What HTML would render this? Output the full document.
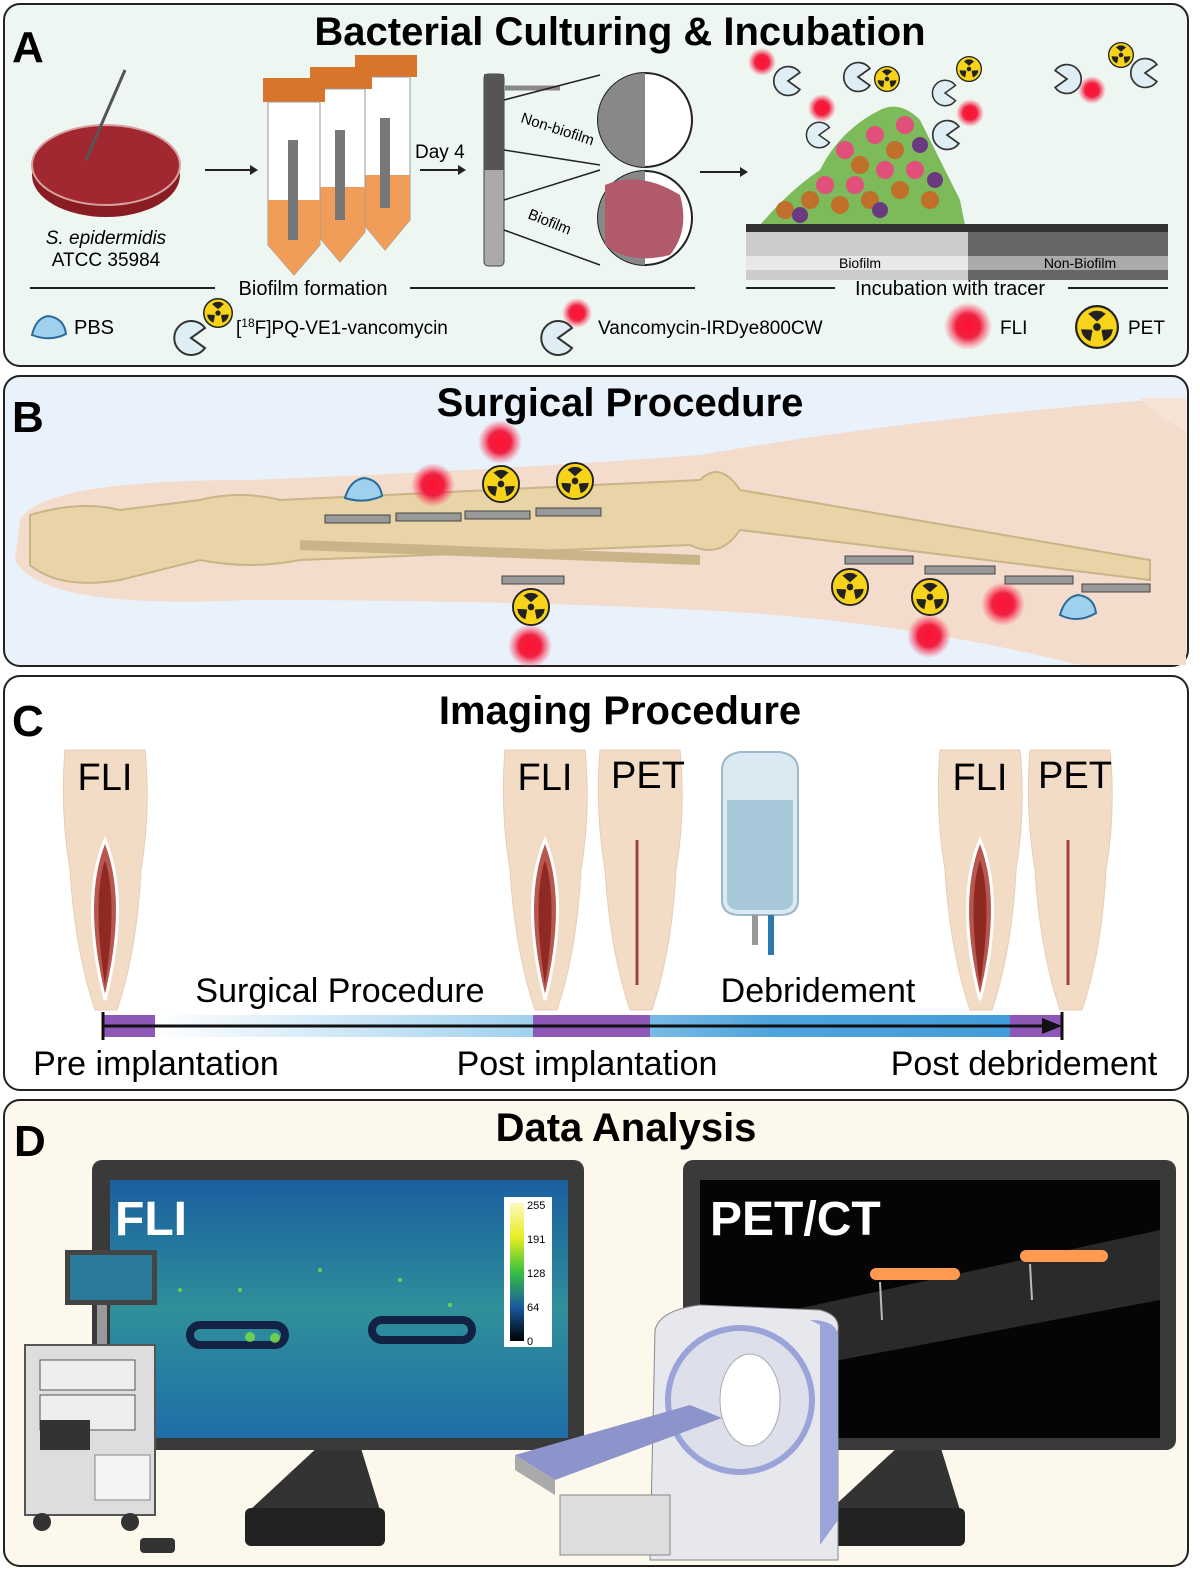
<!DOCTYPE html>
<html><head><meta charset="utf-8"><style>
body{margin:0;background:#fff}
svg{display:block}
text{font-family:"Liberation Sans",sans-serif}
</style></head><body>
<svg width="1200" height="1579" viewBox="0 0 1200 1579" xmlns="http://www.w3.org/2000/svg">
<defs>
<radialGradient id="red"><stop offset="0" stop-color="#ff1030"/><stop offset="0.5" stop-color="#f02040"/><stop offset="1" stop-color="#ff4060" stop-opacity="0"/></radialGradient>
<symbol id="pet" viewBox="-20 -20 40 40"><circle r="19" fill="#f7d31a" stroke="#222" stroke-width="2"/><circle r="3.5" fill="#222"/><path d="M0 -5 L-5 -14 A16 16 0 0 1 5 -14Z M4.5 2.5 L14.5 2 A16 16 0 0 1 9.5 11 Z M-4.5 2.5 L-9.5 11 A16 16 0 0 1 -14.5 2Z" fill="#222"/><path d="M0 -5 L-8 -12 A15 15 0 0 1 8 -12Z M4 3 L14 5 A15 15 0 0 1 6 13Z M-4 3 L-6 13 A15 15 0 0 1 -14 5Z" fill="#222"/></symbol>
<symbol id="pac" viewBox="-20 -20 40 40"><path d="M0 0 L14 -10 A17 17 0 1 0 14 10 Z" fill="#dfeef5" stroke="#333" stroke-width="2"/></symbol>
<linearGradient id="tl" x1="0" x2="1"><stop offset="0.05" stop-color="#fff"/><stop offset="0.45" stop-color="#9fd0ee"/><stop offset="0.7" stop-color="#4ea3dc"/><stop offset="1" stop-color="#3f9ad8"/></linearGradient>
<linearGradient id="fli" x1="0" y1="0" x2="0" y2="1"><stop offset="0" stop-color="#1a5fa0"/><stop offset="0.5" stop-color="#2f8f9a"/><stop offset="1" stop-color="#1f6ea8"/></linearGradient>
<linearGradient id="cb" x1="0" y1="0" x2="0" y2="1"><stop offset="0" stop-color="#fff8c0"/><stop offset="0.25" stop-color="#e6ee20"/><stop offset="0.5" stop-color="#38c040"/><stop offset="0.75" stop-color="#1a5aa0"/><stop offset="1" stop-color="#000"/></linearGradient>
<g id="leg"><path d="M-40 0 Q-45 60 -35 120 Q-30 200 -10 260 L12 260 Q32 200 36 120 Q46 60 40 0Z" fill="#f3dcc6" stroke="#e8cdb4"/></g>
</defs>

<!-- Panel A -->
<rect x="4" y="4" width="1184" height="362" rx="16" fill="#eef6f1" stroke="#222" stroke-width="2"/>
<text x="620" y="45" font-size="40" font-weight="bold" text-anchor="middle">Bacterial Culturing &amp; Incubation</text>
<text x="12" y="62" font-size="44" font-weight="bold">A</text>
<ellipse cx="106" cy="175" rx="74" ry="42" fill="#8a1d24"/>
<ellipse cx="106" cy="165" rx="74" ry="40" fill="#a12830" stroke="#d8a0a0" stroke-width="2"/>
<line x1="86" y1="160" x2="125" y2="70" stroke="#555" stroke-width="3"/>
<text x="106" y="244" font-size="19" font-style="italic" text-anchor="middle">S. epidermidis</text>
<text x="106" y="266" font-size="19" text-anchor="middle">ATCC 35984</text>
<path d="M205 170 H250" stroke="#222" stroke-width="2"/><path d="M250 165 L258 170 L250 175Z" fill="#222"/>
<g>
<rect x="355" y="55" width="62" height="22" fill="#d9752a"/><path d="M360 77 V220 L385 250 L410 220 V77Z" fill="#fff" stroke="#999"/><path d="M360 175 H410 V220 L385 250 L360 220Z" fill="#ef9d58"/>
<rect x="310" y="67" width="62" height="22" fill="#d9752a"/><path d="M315 89 V232 L340 262 L365 232 V89Z" fill="#fff" stroke="#999"/><path d="M315 187 H365 V232 L340 262 L315 232Z" fill="#ef9d58"/>
<rect x="263" y="78" width="62" height="24" fill="#d9752a"/><path d="M268 102 V245 L294 275 L320 245 V102Z" fill="#fff" stroke="#999"/><path d="M268 200 H320 V245 L294 275 L268 245Z" fill="#ef9d58"/>
<rect x="288" y="140" width="10" height="100" fill="#777"/><rect x="335" y="130" width="10" height="90" fill="#777"/><rect x="380" y="118" width="10" height="90" fill="#777"/>
</g>
<text x="415" y="158" font-size="19">Day 4</text>
<path d="M420 170 H458" stroke="#222" stroke-width="2"/><path d="M458 165 L466 170 L458 175Z" fill="#222"/>
<rect x="484" y="74" width="20" height="192" rx="4" fill="#aaa" stroke="#444"/><rect x="484" y="74" width="20" height="96" fill="#555"/>
<line x1="505" y1="88" x2="560" y2="88" stroke="#888" stroke-width="5"/>
<path d="M504 100 L600 75 M504 150 L600 165 M504 200 L600 170 M504 230 L600 265" stroke="#222" stroke-width="1.5" fill="none"/>
<circle cx="645" cy="120" r="47" fill="#fff" stroke="#222" stroke-width="2"/><path d="M645 73 A47 47 0 0 0 645 167Z" fill="#888"/>
<circle cx="645" cy="218" r="47" fill="#fff" stroke="#222" stroke-width="2"/><path d="M645 171 A47 47 0 0 0 645 265Z" fill="#888"/>
<path d="M605 185 Q640 170 680 195 Q690 230 670 255 Q630 265 605 245Z" fill="#b05a6a"/>
<text x="520" y="122" font-size="15" transform="rotate(18 520 122)">Non-biofilm</text>
<text x="527" y="218" font-size="15" transform="rotate(22 527 218)">Biofilm</text>
<path d="M700 172 H740" stroke="#222" stroke-width="2"/><path d="M740 167 L748 172 L740 177Z" fill="#222"/>
<path d="M760 225 Q790 190 820 170 Q840 130 880 110 Q900 100 920 120 Q940 160 960 200 L965 225Z" fill="#7cba5a"/>
<g fill="#c0702a"><circle cx="785" cy="210" r="9"/><circle cx="810" cy="200" r="9"/><circle cx="840" cy="205" r="9"/><circle cx="870" cy="200" r="9"/><circle cx="900" cy="190" r="9"/><circle cx="930" cy="200" r="9"/><circle cx="860" cy="165" r="9"/><circle cx="895" cy="150" r="9"/></g>
<g fill="#e0507a"><circle cx="825" cy="185" r="9"/><circle cx="855" cy="185" r="9"/><circle cx="885" cy="170" r="9"/><circle cx="915" cy="170" r="9"/><circle cx="875" cy="135" r="9"/><circle cx="905" cy="125" r="9"/><circle cx="845" cy="150" r="9"/></g>
<g fill="#6a3a80"><circle cx="800" cy="215" r="8"/><circle cx="880" cy="210" r="8"/><circle cx="935" cy="180" r="8"/><circle cx="920" cy="145" r="8"/></g>
<rect x="746" y="224" width="422" height="56" fill="#ccc"/><rect x="968" y="224" width="200" height="56" fill="#666"/>
<rect x="746" y="224" width="422" height="8" fill="#333"/><rect x="746" y="256" width="222" height="14" fill="#e8e8e8"/><rect x="968" y="256" width="200" height="14" fill="#aaa"/>
<text x="860" y="268" font-size="14" text-anchor="middle">Biofilm</text><text x="1080" y="268" font-size="14" text-anchor="middle">Non-Biofilm</text>
<use href="#pac" x="771" y="64" width="34" height="34"/><use href="#pac" x="841" y="60" width="34" height="34"/><use href="#pac" x="1050" y="62" width="34" height="34" transform="scale(-1 1) translate(-2134 0)"/><use href="#pac" x="1128" y="56" width="34" height="34"/><use href="#pac" x="804" y="120" width="30" height="30"/><use href="#pac" x="930" y="118" width="34" height="34"/><use href="#pac" x="930" y="78" width="30" height="30"/>
<circle cx="762" cy="62" r="14" fill="url(#red)"/><circle cx="822" cy="108" r="14" fill="url(#red)"/><circle cx="970" cy="113" r="14" fill="url(#red)"/><circle cx="1092" cy="90" r="14" fill="url(#red)"/>
<use href="#pet" x="874" y="66" width="26" height="26"/><use href="#pet" x="956" y="56" width="26" height="26"/><use href="#pet" x="1108" y="42" width="26" height="26"/>
<line x1="30" y1="288" x2="215" y2="288" stroke="#222" stroke-width="2"/><line x1="410" y1="288" x2="695" y2="288" stroke="#222" stroke-width="2"/>
<text x="313" y="295" font-size="20" text-anchor="middle">Biofilm formation</text>
<line x1="746" y1="288" x2="835" y2="288" stroke="#222" stroke-width="2"/><line x1="1068" y1="288" x2="1168" y2="288" stroke="#222" stroke-width="2"/>
<text x="950" y="295" font-size="20" text-anchor="middle">Incubation with tracer</text>
<path d="M32 335 Q36 318 48 316 Q64 318 66 334 Q50 342 32 335Z" fill="#9fd0ee" stroke="#2a6b9a" stroke-width="2"/>
<text x="74" y="334" font-size="20">PBS</text>
<use href="#pac" x="171" y="318" width="40" height="40"/><use href="#pet" x="203" y="298" width="30" height="30"/>
<text x="236" y="334" font-size="19">[<tspan font-size="12" dy="-7">18</tspan><tspan dy="7">F]PQ-VE1-vancomycin</tspan></text>
<use href="#pac" x="538" y="318" width="40" height="40"/><circle cx="577" cy="313" r="15" fill="url(#red)"/>
<text x="598" y="334" font-size="19">Vancomycin-IRDye800CW</text>
<circle cx="968" cy="326" r="24" fill="url(#red)"/><text x="1000" y="334" font-size="19">FLI</text>
<use href="#pet" x="1075" y="305" width="44" height="44"/><text x="1128" y="334" font-size="19">PET</text>

<!-- Panel B -->
<rect x="4" y="376" width="1184" height="290" rx="16" fill="#e9f1fb" stroke="#222" stroke-width="2"/>
<path d="M20 520 Q40 480 250 480 Q500 470 700 455 Q900 420 1150 400 L1186 398 L1186 665 L1080 665 Q900 620 700 610 Q500 600 250 600 Q40 610 15 560Z" fill="#f4dccd"/>
<path d="M1140 398 Q1160 420 1186 430 V398Z" fill="#f7e3d6"/>
<path d="M30 515 Q80 500 120 510 L200 500 Q240 490 280 500 L700 480 Q720 460 740 490 L1150 560 L1150 580 L740 530 Q720 560 690 545 L300 560 Q250 570 200 560 L120 580 Q60 590 30 565Z" fill="#e9d4a8" stroke="#c9b488" stroke-width="2"/>
<path d="M300 545 L700 560" stroke="#c9b488" stroke-width="10"/>
<g fill="#999" stroke="#444"><rect x="325" y="515" width="65" height="8"/><rect x="396" y="513" width="65" height="8"/><rect x="465" y="511" width="65" height="8"/><rect x="536" y="508" width="65" height="8"/><rect x="502" y="576" width="62" height="8"/><rect x="845" y="556" width="68" height="8"/><rect x="925" y="566" width="70" height="8"/><rect x="1005" y="576" width="68" height="8"/><rect x="1082" y="584" width="68" height="8"/></g>
<text x="620" y="416" font-size="40" font-weight="bold" text-anchor="middle">Surgical Procedure</text>
<text x="12" y="432" font-size="44" font-weight="bold">B</text>
<path d="M345 498 Q350 480 364 478 Q380 480 382 496 Q364 504 345 498Z" fill="#9fd0ee" stroke="#2a6b9a" stroke-width="2"/>
<path d="M1060 615 Q1065 597 1078 595 Q1094 597 1096 613 Q1078 624 1060 615Z" fill="#9fd0ee" stroke="#2a6b9a" stroke-width="2"/>
<circle cx="433" cy="485" r="22" fill="url(#red)"/><circle cx="500" cy="442" r="22" fill="url(#red)"/><circle cx="530" cy="646" r="22" fill="url(#red)"/><circle cx="929" cy="636" r="22" fill="url(#red)"/><circle cx="1003" cy="604" r="22" fill="url(#red)"/>
<use href="#pet" x="482" y="465" width="38" height="38"/><use href="#pet" x="556" y="462" width="38" height="38"/><use href="#pet" x="512" y="588" width="38" height="38"/><use href="#pet" x="831" y="568" width="38" height="38"/><use href="#pet" x="911" y="578" width="38" height="38"/>

<!-- Panel C -->
<rect x="4" y="676" width="1184" height="414" rx="16" fill="#fff" stroke="#222" stroke-width="2"/>
<text x="620" y="724" font-size="40" font-weight="bold" text-anchor="middle">Imaging Procedure</text>
<text x="12" y="736" font-size="44" font-weight="bold">C</text>
<use href="#leg" x="105" y="750"/><use href="#leg" x="545" y="750"/><use href="#leg" x="640" y="750"/><use href="#leg" x="980" y="750"/><use href="#leg" x="1070" y="750"/>
<g fill="#b8574f" stroke="#fff" stroke-width="3"><path d="M105 840 Q130 900 105 1000 Q80 900 105 840Z"/><path d="M545 840 Q570 900 545 1000 Q520 900 545 840Z"/><path d="M980 840 Q1005 900 980 1000 Q955 900 980 840Z"/></g>
<g fill="#8e2a22"><path d="M105 860 Q118 900 105 985 Q92 900 105 860Z"/><path d="M545 860 Q558 900 545 985 Q532 900 545 860Z"/><path d="M980 860 Q993 900 980 985 Q967 900 980 860Z"/></g>
<line x1="637" y1="840" x2="637" y2="985" stroke="#a04040" stroke-width="3"/><line x1="1068" y1="840" x2="1068" y2="985" stroke="#a04040" stroke-width="3"/>
<g font-size="38" text-anchor="middle"><text x="105" y="790">FLI</text><text x="545" y="790">FLI</text><text x="648" y="788">PET</text><text x="980" y="790">FLI</text><text x="1075" y="788">PET</text></g>
<path d="M722 770 Q722 755 740 752 H780 Q798 755 798 770 V900 Q798 915 780 915 H740 Q722 915 722 900Z" fill="#dbeaf2" stroke="#9bb8c8" stroke-width="2"/>
<path d="M727 800 H793 V900 Q793 910 780 910 H740 Q727 910 727 900Z" fill="#a6c8d8"/>
<rect x="752" y="915" width="6" height="30" fill="#999"/><rect x="768" y="915" width="6" height="40" fill="#2a7ab0"/>
<text x="340" y="1002" font-size="34" text-anchor="middle">Surgical Procedure</text>
<text x="818" y="1002" font-size="34" text-anchor="middle">Debridement</text>
<rect x="103" y="1015" width="960" height="22" fill="url(#tl)"/>
<rect x="103" y="1015" width="52" height="22" fill="#8d58b8"/><rect x="533" y="1015" width="117" height="22" fill="#8d58b8"/><rect x="1010" y="1015" width="53" height="22" fill="#8d58b8"/>
<line x1="103" y1="1026" x2="1050" y2="1026" stroke="#111" stroke-width="3"/><path d="M1042 1018 L1062 1026 L1042 1034Z" fill="#111"/>
<line x1="103" y1="1012" x2="103" y2="1040" stroke="#111" stroke-width="3"/><line x1="1062" y1="1012" x2="1062" y2="1040" stroke="#111" stroke-width="3"/>
<g font-size="34" text-anchor="middle"><text x="156" y="1075">Pre implantation</text><text x="587" y="1075">Post implantation</text><text x="1024" y="1075">Post debridement</text></g>

<!-- Panel D -->
<rect x="4" y="1100" width="1184" height="466" rx="16" fill="#fcf9ec" stroke="#222" stroke-width="2"/>
<text x="626" y="1141" font-size="40" font-weight="bold" text-anchor="middle">Data Analysis</text>
<text x="14" y="1156" font-size="44" font-weight="bold">D</text>
<path d="M320 1445 H360 L380 1510 H250Z" fill="#333"/><rect x="245" y="1508" width="140" height="38" rx="6" fill="#222"/>
<rect x="92" y="1160" width="492" height="290" rx="10" fill="#3a3a3a"/>
<rect x="110" y="1180" width="458" height="258" fill="url(#fli)"/>
<rect x="504" y="1197" width="48" height="150" fill="#fff"/><rect x="510" y="1203" width="14" height="138" fill="url(#cb)"/>
<g font-size="11"><text x="527" y="1209">255</text><text x="527" y="1243">191</text><text x="527" y="1277">128</text><text x="527" y="1311">64</text><text x="527" y="1345">0</text></g>
<text x="115" y="1235" font-size="48" font-weight="bold" fill="#fff">FLI</text>
<g fill="none" stroke="#112244" stroke-width="8"><rect x="190" y="1325" width="95" height="20" rx="10"/><rect x="372" y="1320" width="100" height="20" rx="10"/></g>
<g fill="#7fe040" opacity="0.8"><circle cx="250" cy="1337" r="5"/><circle cx="275" cy="1338" r="5"/><circle cx="240" cy="1290" r="2"/><circle cx="320" cy="1270" r="2"/><circle cx="400" cy="1280" r="2"/><circle cx="450" cy="1305" r="2"/><circle cx="180" cy="1290" r="2"/></g>
<path d="M900 1445 H940 L960 1510 H830Z" fill="#333"/><rect x="825" y="1508" width="140" height="38" rx="6" fill="#222"/>
<rect x="683" y="1160" width="493" height="290" rx="10" fill="#3a3a3a"/>
<rect x="700" y="1180" width="460" height="258" fill="#050505"/>
<path d="M700 1330 L1160 1230 L1160 1300 L840 1360 L700 1400Z" fill="#2a2a2a"/>
<text x="710" y="1235" font-size="48" font-weight="bold" fill="#fff">PET/CT</text>
<rect x="870" y="1268" width="90" height="12" rx="6" fill="#ff9a50"/><rect x="1020" y="1250" width="88" height="12" rx="6" fill="#ff9a50"/>
<line x1="880" y1="1282" x2="882" y2="1320" stroke="#bbb" stroke-width="2"/><line x1="1030" y1="1264" x2="1032" y2="1300" stroke="#bbb" stroke-width="2"/>
<path d="M655 1330 Q660 1310 700 1305 L820 1310 Q840 1315 838 1330 L838 1560 H650Z" fill="#e6e8ee" stroke="#888"/>
<path d="M810 1320 Q840 1320 838 1340 V1520 L820 1545 V1325Z" fill="#9aa4d8"/>
<circle cx="740" cy="1400" r="72" fill="#dde0ea" stroke="#9aa4d8" stroke-width="6"/><ellipse cx="750" cy="1400" rx="30" ry="46" fill="#fff" stroke="#aaa"/>
<path d="M515 1455 L690 1405 L722 1418 L555 1480Z" fill="#8d94cc"/><path d="M515 1455 L555 1480 V1495 L515 1470Z" fill="#aaa"/>
<rect x="560" y="1495" width="110" height="60" fill="#ddd" stroke="#888"/>
<rect x="65" y="1250" width="92" height="55" fill="#444"/><rect x="70" y="1255" width="82" height="45" fill="#2a7a9a"/>
<rect x="97" y="1305" width="10" height="40" fill="#999"/>
<rect x="25" y="1345" width="130" height="170" fill="#ddd" stroke="#555" stroke-width="2"/>
<rect x="40" y="1360" width="95" height="30" fill="#eee" stroke="#555"/><rect x="40" y="1395" width="95" height="35" fill="#eee" stroke="#555"/><rect x="40" y="1420" width="50" height="30" fill="#333"/><rect x="95" y="1455" width="55" height="45" fill="#f4f4f4" stroke="#888"/>
<circle cx="42" cy="1522" r="9" fill="#333"/><circle cx="130" cy="1522" r="9" fill="#333"/><rect x="140" y="1538" width="35" height="15" rx="4" fill="#333"/>
</svg>
</body></html>
